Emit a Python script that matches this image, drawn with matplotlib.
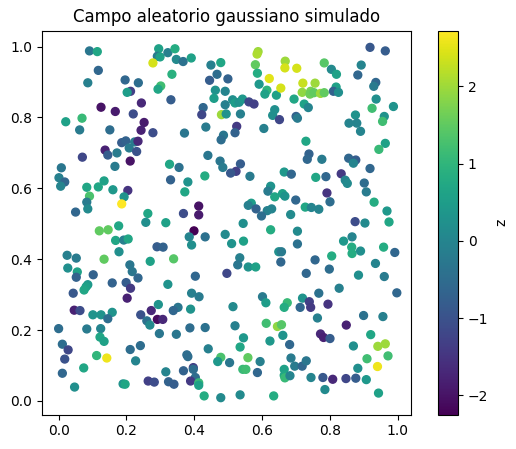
import matplotlib.pyplot as plt

# puntos (x, y, valor z)
x = [0.091, 0.114, 0.295, 0.291, 0.299, 0.278, 0.117, 0.086, 0.196, 0.235,
     0.212, 0.202, 0.301, 0.293, 0.244, 0.125, 0.167, 0.220, 0.252, 0.069,
     0.021,
     0.322, 0.343, 0.347, 0.367, 0.391, 0.334, 0.449, 0.478, 0.467,
     0.445, 0.499, 0.462, 0.491, 0.458, 0.331, 0.426, 0.422, 0.480, 0.494,
     0.491, 0.513, 0.520, 0.532, 0.542, 0.536, 0.561, 0.576, 0.588, 0.585,
     0.580, 0.586, 0.621, 0.591, 0.614, 0.608, 0.642, 0.655, 0.668, 0.667,
     0.637, 0.631, 0.651,
     0.702, 0.720, 0.756, 0.718, 0.743, 0.741, 0.753, 0.772, 0.783, 0.783,
     0.804, 0.819, 0.818, 0.810, 0.825, 0.694, 0.724, 0.736, 0.700, 0.704,
     0.918, 0.963, 0.892, 0.882, 0.935, 0.929, 0.936, 0.924, 0.987, 0.960,
     0.955, 0.875, 0.856, 0.879, 0.890,
     0.062, 0.151, 0.243, 0.278, 0.186, 0.198, 0.224, 0.234, 0.208, 0.230,
     0.137, 0.145, 0.172, 0.211, 0.070, 0.166, 0.008, 0.001, 0.018, 0.006,
     0.134, 0.117, 0.083, 0.160, 0.204, 0.091, 0.193, 0.186, 0.083, 0.086,
     0.050, 0.263,
     0.371, 0.434, 0.525, 0.520, 0.486, 0.479, 0.605, 0.440, 0.476, 0.484,
     0.536, 0.523, 0.507, 0.564, 0.327, 0.355, 0.431, 0.330, 0.381, 0.372,
     0.413, 0.413, 0.368, 0.665, 0.625, 0.617, 0.637, 0.660, 0.667, 0.568,
     0.559, 0.582, 0.615, 0.628, 0.598, 0.684, 0.316, 0.544,
     0.729, 0.963, 0.944, 0.738, 0.733, 0.776, 0.855, 0.876, 0.869, 0.918,
     0.686, 0.758, 0.788, 0.833, 0.845, 0.851, 0.901, 0.907, 0.791, 0.800,
     0.699, 0.727, 0.745, 0.767, 0.930, 0.968, 0.874, 0.903, 0.974,
     0.120, 0.146, 0.177, 0.257, 0.168, 0.192, 0.205, 0.178, 0.025, 0.052,
     0.134, 0.027, 0.055, 0.052, 0.102, 0.210, 0.217, 0.234, 0.270, 0.290,
     0.308, 0.086, 0.081, 0.075, 0.158, 0.199, 0.212, 0.202, 0.043, 0.046,
     0.063, 0.101, 0.125, 0.158, 0.145, 0.242, 0.273, 0.294, 0.291, 0.307,
     0.260,
     0.399, 0.385, 0.392, 0.432, 0.491, 0.510, 0.545, 0.625, 0.339, 0.534,
     0.528, 0.559, 0.581, 0.649, 0.657, 0.655, 0.496, 0.403, 0.322, 0.392,
     0.414, 0.601, 0.611, 0.674, 0.665, 0.514, 0.352, 0.338, 0.389,
     0.704, 0.704, 0.840, 0.865, 0.864, 0.865, 0.890, 0.958, 0.991, 0.805,
     0.756, 0.798, 0.730, 0.934, 0.884, 0.960, 0.827, 0.767, 0.997, 0.719,
     0.739, 0.712, 0.743, 0.794, 0.763, 0.899, 0.956,
     0.000, 0.083, 0.124, 0.122, 0.134, 0.011, 0.028, 0.018, 0.112, 0.142,
     0.211, 0.241, 0.227, 0.011, 0.074, 0.047, 0.190, 0.196, 0.264, 0.282,
     0.297, 0.269,
     0.347, 0.387, 0.432, 0.520, 0.545, 0.535, 0.612, 0.645, 0.657, 0.661,
     0.623, 0.681, 0.441, 0.378, 0.381, 0.478, 0.469, 0.504, 0.558, 0.594,
     0.543, 0.552, 0.586, 0.665, 0.665, 0.667, 0.316, 0.368, 0.397, 0.397,
     0.403, 0.389, 0.413, 0.413, 0.324, 0.340, 0.429, 0.478, 0.535, 0.634,
     0.848, 0.772, 0.781, 0.800, 0.920, 0.869, 0.941, 0.963, 0.971, 0.909,
     0.940, 0.882, 0.685, 0.696, 0.718, 0.730, 0.682, 0.744, 0.779, 0.808,
     0.847, 0.876, 0.907, 0.785, 0.943]

y = [0.988, 0.986, 0.994, 0.973, 0.971, 0.954, 0.933, 0.898, 0.906, 0.898,
     0.874, 0.871, 0.889, 0.880, 0.841, 0.829, 0.817, 0.810, 0.786, 0.798,
     0.788,
     0.983, 0.994, 0.964, 0.958, 0.968, 0.922, 0.948, 0.955, 0.922,
     0.905, 0.909, 0.877, 0.874, 0.854, 0.850, 0.828, 0.808, 0.808, 0.810,
     0.836, 0.850, 0.841, 0.843, 0.852, 0.810, 0.844, 0.838, 0.986, 0.979,
     0.949, 0.925, 0.910, 0.894, 0.877, 0.866, 0.863, 0.883, 0.959, 0.940,
     0.822, 0.806, 0.794,
     0.939, 0.897, 0.897, 0.871, 0.874, 0.866, 0.870, 0.868, 0.870, 0.954,
     0.936, 0.922, 0.886, 0.874, 0.871, 0.852, 0.838, 0.828, 0.803, 0.798,
     0.998, 0.988, 0.948, 0.920, 0.899, 0.888, 0.852, 0.826, 0.831, 0.803,
     0.789, 0.807, 0.784, 0.784, 0.761,
     0.765, 0.765, 0.764, 0.757, 0.729, 0.734, 0.731, 0.733, 0.714, 0.704,
     0.708, 0.694, 0.700, 0.677, 0.688, 0.662, 0.658, 0.630, 0.618, 0.606,
     0.621, 0.604, 0.603, 0.596, 0.594, 0.578, 0.576, 0.556, 0.561, 0.542,
     0.533, 0.529,
     0.756, 0.773, 0.775, 0.757, 0.750, 0.737, 0.769, 0.693, 0.677, 0.659,
     0.669, 0.648, 0.643, 0.634, 0.668, 0.659, 0.635, 0.624, 0.618, 0.590,
     0.550, 0.525, 0.529, 0.646, 0.606, 0.592, 0.576, 0.585, 0.578, 0.558,
     0.552, 0.542, 0.537, 0.542, 0.522, 0.526, 0.503, 0.501,
     0.733, 0.727, 0.710, 0.697, 0.682, 0.682, 0.685, 0.680, 0.671, 0.656,
     0.640, 0.631, 0.633, 0.641, 0.623, 0.614, 0.615, 0.590, 0.587, 0.562,
     0.567, 0.547, 0.546, 0.541, 0.561, 0.536, 0.506, 0.502, 0.505,
     0.480, 0.483, 0.494, 0.504, 0.453, 0.454, 0.457, 0.421, 0.411, 0.403,
     0.400, 0.375, 0.364, 0.349, 0.356, 0.384, 0.365, 0.347, 0.394, 0.435,
     0.434, 0.328, 0.322, 0.313, 0.333, 0.334, 0.318, 0.290, 0.304, 0.256,
     0.255, 0.243, 0.243, 0.250, 0.232, 0.243, 0.255, 0.272, 0.230, 0.230,
     0.226,
     0.480, 0.463, 0.440, 0.463, 0.470, 0.444, 0.451, 0.483, 0.401, 0.404,
     0.384, 0.378, 0.378, 0.421, 0.421, 0.392, 0.360, 0.352, 0.329, 0.304,
     0.294, 0.294, 0.277, 0.277, 0.264, 0.266, 0.264, 0.255, 0.259,
     0.479, 0.443, 0.451, 0.463, 0.434, 0.416, 0.423, 0.434, 0.419, 0.409,
     0.398, 0.372, 0.360, 0.388, 0.355, 0.351, 0.318, 0.304, 0.305, 0.290,
     0.280, 0.264, 0.264, 0.273, 0.234, 0.241, 0.238,
     0.204, 0.203, 0.204, 0.180, 0.168, 0.160, 0.144, 0.118, 0.128, 0.121,
     0.145, 0.156, 0.113, 0.078, 0.093, 0.039, 0.048, 0.047, 0.056, 0.053,
     0.190, 0.214,
     0.188, 0.206, 0.207, 0.212, 0.178, 0.152, 0.219, 0.210, 0.215, 0.185,
     0.169, 0.159, 0.147, 0.130, 0.125, 0.123, 0.111, 0.108, 0.122, 0.111,
     0.089, 0.089, 0.080, 0.089, 0.072, 0.065, 0.082, 0.085, 0.094, 0.089,
     0.066, 0.056, 0.051, 0.044, 0.054, 0.047, 0.014, 0.009, 0.017, 0.014,
     0.214, 0.189, 0.179, 0.176, 0.187, 0.155, 0.154, 0.161, 0.127, 0.119,
     0.097, 0.092, 0.121, 0.098, 0.098, 0.113, 0.071, 0.066, 0.066, 0.061,
     0.063, 0.064, 0.060, 0.032, 0.022]

z = [-0.3, 0.7, 0.6, -0.2, 0.6, 2.4, -0.6, -0.1, -0.6, -0.5,
     -1.3, 0.5, 1.2, 0.7, -1.7, -2.0, -1.9, -1.1, -1.9, 1.1,
     0.6,
     -0.1, 0.8, 0.1, -0.4, 0.6, 0.9, -0.1, 0.7, -0.5,
     -0.8, -0.7, 0.3, 0.0, 0.5, -0.8, -0.6, -1.2, 2.0, 0.3,
     -0.1, 0.2, 0.5, 0.3, 0.4, -0.1, -1.2, -1.3, 2.0, 2.1,
     1.5, 0.8, 2.5, 0.4, 1.0, 0.6, 0.6, 2.4, 2.0, 2.4,
     0.2, 0.2, -1.2,
     2.4, 2.3, 2.0, 1.9, 1.7, 1.6, 1.5, 2.0, 1.5, 1.4,
     0.1, 0.6, 0.6, -0.7, 0.2, 0.7, 0.6, 0.0, -0.7, -0.2,
     -0.9, -0.8, 0.0, -0.6, -0.6, -0.2, 0.2, 1.2, 0.3, 0.3,
     1.2, 0.3, 0.0, 0.0, 0.0,
     -0.2, -0.5, -1.8, -1.1, -0.8, -0.7, -0.2, -1.7, -0.2, -1.0,
     -1.8, -0.8, -0.2, -2.0, -1.2, -0.2, -0.3, -0.1, -0.6, 0.0,
     0.6, 0.7, 0.7, 0.4, -1.5, 1.3, 0.3, 2.72, -0.2, 0.1,
     -0.6, 0.7,
     -0.3, -0.2, -1.4, -0.7, -0.3, -0.5, -0.1, -0.3, -0.3, -0.2,
     -0.8, -1.3, -0.9, -0.2, 0.7, -0.4, 0.8, -0.7, 0.3, 0.7,
     -2.0, -1.9, -1.1, 0.4, 0.3, -0.2, 0.7, 0.6, 0.3, 0.5,
     -0.1, -0.7, -0.1, 0.0, -0.5, 0.1, 0.6, 0.2,
     0.7, 0.6, 1.1, -0.7, -0.6, -0.2, -0.6, -0.8, 0.0, -0.6,
     -0.6, 0.7, -0.6, -1.4, 0.0, 0.1, -0.5, -0.2, -1.5, -0.5,
     -0.6, 0.7, 0.0, 0.0, 0.8, 0.4, -1.1, 0.1, 0.7,
     1.5, 1.5, 0.7, 0.2, 0.7, -0.1, 0.7, 0.2, -0.1, -0.2,
     1.5, 0.2, 0.6, -0.7, -0.7, -0.3, -0.3, -0.6, 0.6, -0.8,
     -0.7, 0.4, 0.6, 0.7, -0.7, -0.8, -1.4, -1.8, -0.9, -1.8,
     -1.1, 0.3, 0.3, 0.3, -0.5, -1.0, -1.7, 0.3, -2.1, -1.7,
     -0.4,
     -2.25, 0.0, 0.2, -0.4, 0.1, 0.3, 0.6, 0.8, 1.4, -0.1,
     -0.3, 0.3, 0.6, 0.2, -0.2, -0.6, -1.2, -0.6, 0.3, -0.1,
     -0.2, -0.2, 0.5, 1.1, 0.8, 0.1, -0.3, -0.6, 0.3,
     0.1, -0.4, 0.4, 0.0, 0.8, 0.8, 0.2, 0.8, -0.6, 0.8,
     -0.6, -0.5, -0.6, 0.0, 0.2, -0.2, -0.1, -0.4, -0.6, 0.3,
     -1.3, -0.6, -1.4, -1.5, -0.1, -0.4, -0.1,
     -0.5, -0.2, 0.0, 0.7, 0.6, -0.5, -1.2, -1.0, 1.0, 2.6,
     -0.5, -0.5, 0.0, -0.6, 0.7, 0.2, 0.3, 0.7, -1.3, -1.1,
     -0.3, 0.1,
     -0.3, -0.5, -0.4, -0.1, 0.4, 0.7, 1.2, 1.9, 1.4, 0.3,
     0.4, -0.6, -0.1, -0.5, -0.5, 1.3, 0.4, -0.3, 1.5, -0.1,
     1.1, 1.2, -0.6, 0.6, 0.7, 1.1, 0.0, -0.7, -1.3, -0.5,
     -0.5, -1.4, 1.1, 0.6, -0.7, -0.8, 0.8, 0.1, 0.1, 0.8,
     -1.8, -1.7, -1.8, -0.8, 0.7, 0.2, 2.0, 2.0, 1.2, 1.2,
     2.6, 0.2, -0.2, -0.2, -0.6, -0.3, 0.0, 0.0, -0.9, -1.7,
     -1.2, -0.8, 0.4, 0.1, 0.6]

fig = plt.figure(figsize=(5.16, 4.49), dpi=100)
ax = fig.add_axes([0.0814, 0.0764, 0.7146, 0.8552])
sc = ax.scatter(x, y, c=z, cmap='viridis', s=32)
ax.set_xlim(-0.049, 1.038)
ax.set_ylim(-0.039, 1.045)
ax.set_title('Campo aleatorio gaussiano simulado')

cax = fig.add_axes([0.849, 0.0764, 0.0388, 0.8552])
cb = fig.colorbar(sc, cax=cax)
cb.set_label('z')

fig.savefig('out.png')
